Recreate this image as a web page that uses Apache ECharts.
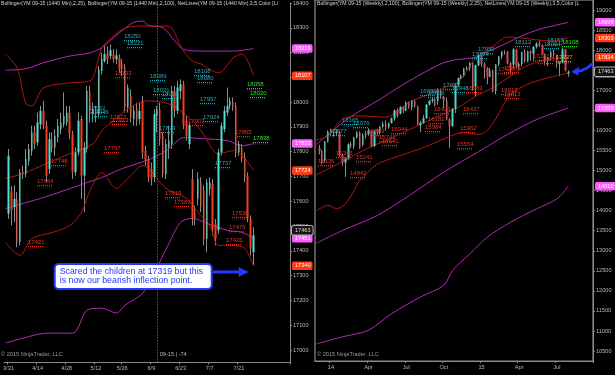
<!DOCTYPE html>
<html><head><meta charset="utf-8">
<script src="https://cdn.jsdelivr.net/npm/echarts@6.0.0/dist/echarts.min.js"></script>
<style>html,body{margin:0;padding:0;background:#000;}#c{width:615px;height:375px;}</style>
</head><body><div id="c"></div>
<script>
const FONT = '"Liberation Sans", Arial, sans-serif';

// ---------- LEFT PANEL (daily) ----------
const leftDates = ['3/31','4/1','4/2','4/3','4/6','4/7','4/8','4/9','4/10','4/13','4/14','4/15','4/16','4/17','4/20','4/21','4/22','4/23','4/24','4/27','4/28','4/29','4/30',
'5/1','5/4','5/5','5/6','5/7','5/8','5/11','5/12','5/13','5/14','5/15','5/18','5/19','5/20','5/21','5/22','5/26','5/27','5/28','5/29',
'6/1','6/2','6/3','6/4','6/5','6/8','6/9','6/10','6/11','6/12','6/15','6/16','6/17','6/18','6/19','6/22','6/23','6/24','6/25','6/26','6/29','6/30',
'7/1','7/2','7/3','7/6','7/7','7/8','7/9','7/10','7/13','7/14','7/15','7/16','7/17','7/20','7/21','7/22','7/23','7/24','7/27','7/28'];
const leftTickLabels = ['3/31','4/14','4/28','5/12','5/26','6/9','6/23','7/7','7/21'];
const leftYTicks = [17000,17100,17200,17300,17400,17500,17600,17700,17800,17900,18000,18100,18200,18300,18400];
// [open, close, low, high]
const leftOHLC = [
[17550,17784,17529,17811],[17640,17563,17503,17660],[17576,17610,17516,17664],[17610,17436,17415,17637],[17436,17717,17422,17730],
[17720,17709,17690,17744],[17710,17771,17697,17811],[17764,17811,17744,17831],[17804,17878,17784,17905],[17878,17831,17811,17905],
[17838,17918,17824,17958],[17911,17965,17891,17985],[17965,17905,17891,18005],[17905,17704,17677,17925],[17730,17851,17710,17878],
[17844,17813,17797,17878],[17817,17864,17784,17891],[17858,17905,17838,17932],[17891,17918,17871,17958],[17911,17945,17898,18039],
[17918,17958,17905,17985],[17956,17871,17851,17985],[17871,17717,17690,17885],[17717,17797,17704,17818],[17797,17925,17784,17958],
[17932,17704,17610,17945],[17704,17817,17556,17838],[17811,18045,17797,18065],[18045,17952,17918,18065],[17952,17972,17918,17998],
[17965,17952,17918,17985],[17952,18133,17938,18146],[18126,18173,18112,18200],[18166,18193,18159,18226],[18200,18173,18153,18226],
[18186,18210,18173,18233],[18193,18173,18159,18213],[18173,18189,18153,18213],[18179,18133,18119,18193],[18153,18133,18106,18173],
[18139,17978,17958,18153],[17978,18059,17958,18072],[18025,17938,17918,18052],[17932,17965,17905,17985],[17978,17925,17905,17998],
[17932,17965,17911,17998],[18005,17797,17771,18025],[17804,17764,17744,17824],[17771,17697,17677,17784],[17730,17690,17664,17757],
[17697,17952,17677,17972],[17945,17972,17878,17985],[17972,17851,17824,17998],[17864,17710,17697,17878],[17710,17831,17690,17851],
[17817,17844,17771,17905],[17831,18045,17811,18065],[18045,17965,17938,18065],[17965,18059,17952,18086],[18045,18072,18012,18092],
[18072,17905,17891,18086],[17925,17864,17844,17945],[17831,17905,17811,17918],[17690,17529,17503,17730],[17556,17529,17503,17583],
[17610,17690,17583,17717],[17677,17583,17556,17697],[17643,17449,17422,17664],[17449,17677,17395,17690],[17650,17677,17623,17697],
[17670,17489,17462,17690],[17509,17449,17422,17529],[17483,17797,17469,17811],[17797,17905,17784,17918],[17891,17965,17878,17985],
[17958,17985,17945,18059],[17985,18005,17972,18019],[18001,17978,17965,18019],[17985,17797,17777,17998],[17797,17831,17784,17844],
[17817,17771,17757,17831],[17777,17697,17677,17797],[17704,17529,17516,17717],[17529,17409,17382,17543],[17395,17463,17342,17496]];
// Bollinger bands: [barIndex, value]
const leftRedUpper = [[-1,18194],[3,18138],[6,17993],[8,17985],[12,18057],[21,18078],[28,18086],[32,18218],[36,18267],[40,18299],[46,18307],[53,18307],[56,18299],[59,18226],[63,18166],[66,18154],[72,18118],[77,18178],[80,18194],[82,18166],[84,18107]];
const leftRedMid = [[-1,17692],[5,17712],[13,17752],[21,17792],[29,17832],[32,17885],[36,17925],[40,17965],[47,18005],[55,17993],[62,17937],[66,17885],[72,17792],[77,17804],[81,17772],[84,17724]];
const leftRedLower = [[-1,17434],[4,17382],[8,17450],[15,17474],[21,17502],[25,17555],[28,17644],[32,17716],[37,17652],[41,17692],[46,17744],[54,17652],[61,17612],[65,17555],[69,17502],[72,17422],[77,17422],[81,17410],[84,17340]];
const leftPurpleUpper = [[-1,18129],[6,18135],[12,18159],[21,18186],[28,18199],[32,18220],[38,18280],[43,18322],[46,18327],[48,18310],[53,18300],[57,18247],[60,18213],[66,18206],[77,18206],[84,18216]];
const leftPurpleMid = [[-1,17571],[5,17591],[13,17619],[21,17651],[27,17676],[32,17696],[39,17732],[49,17772],[55,17812],[60,17857],[66,17853],[75,17845],[80,17824],[84,17833]];
const leftPurpleLower = [[-1,17028],[5,17048],[13,17068],[22,17068],[27,17161],[32,17169],[37,17149],[40,17181],[46,17229],[50,17310],[55,17430],[59,17515],[63,17531],[68,17511],[75,17483],[80,17475],[84,17451]];
// NetLines levels: [barIndex, price]
const leftCyanLevels = [[40,18250],[41,18221],[49,18089],[50,18031],[53,18018],[52,17879],[64,18108],[65,18080],[66,17997],[67,17924],[71,17737],[28,17962],[29,17946]];
const leftRedLevels = [[37,18103],[35,17922],[36,17913],[33,17797],[15,17748],[10,17664],[7,17421],[54,17619],[57,17583],[62,17907],[75,17426],[76,17479],[77,17536],[78,17865]];
const leftGreenLevels = [[82,18058],[83,18020],[84,17838]];
const rollDate = '6/11';
const rollText = '09-15 | -74';
const noteLines = ['Scared the children at 17319 but this', 'is now our bearish inflection point.'];
const notePrice = 17319;
const noteBar = 82;

// ---------- RIGHT PANEL (weekly) ----------
const rightDates = ['12/6/13','12/13/13','12/20/13','12/27/13','1/3/14','1/10/14','1/17/14','1/24/14','1/31/14','2/7/14','2/14/14','2/21/14','2/28/14',
'3/7/14','3/14/14','3/21/14','3/28/14','4/4/14','4/11/14','4/18/14','4/25/14','5/2/14','5/9/14','5/16/14','5/23/14','5/30/14','6/6/14','6/13/14','6/20/14','6/27/14',
'7/4/14','7/11/14','7/18/14','7/25/14','8/1/14','8/8/14','8/15/14','8/22/14','8/29/14','9/5/14','9/12/14','9/19/14','9/26/14','10/3/14','10/10/14','10/17/14','10/24/14','10/31/14',
'11/7/14','11/14/14','11/21/14','11/28/14','12/5/14','12/12/14','12/19/14','12/26/14','1/2/15','1/9/15','1/16/15','1/23/15','1/30/15','2/6/15','2/13/15','2/20/15','2/27/15',
'3/6/15','3/13/15','3/20/15','3/27/15','4/3/15','4/10/15','4/17/15','4/24/15','5/1/15','5/8/15','5/15/15','5/22/15','5/29/15','6/5/15','6/12/15','6/19/15','6/26/15',
'7/3/15','7/10/15','7/17/15','7/24/15','7/31/15'];
const rightTickLabels = {'1/3/14':'14','4/4/14':'Apr','7/4/14':'Jul','10/3/14':'Oct','1/2/15':'15','4/3/15':'Apr','7/3/15':'Jul'};
const rightYTicks = [10500,11000,11500,12000,12500,13000,13500,14000,14500,15000,15500,16000,16500,17000,17500,18000,18500,19000];
const rightOHLC = [
[15560,15480,15400,15640],[15480,15215,15160,15510],[15255,15721,15200,15740],[15721,15979,15700,16000],[15979,15969,15860,16040],
[15969,15937,15850,16010],[15937,15958,15880,16030],[15958,15379,15340,15990],[15379,15199,15120,15420],[15199,15294,14840,15320],
[15294,15654,15260,15680],[15654,15603,15560,15720],[15603,15821,15540,15840],[15821,15952,15800,15980],[15952,15565,15540,15980],
[15645,15882,15600,15930],[15882,15903,15800,15990],[15903,15992,15880,16050],[15992,15607,15580,16000],[15607,15989,15590,16000],
[15989,15941,15880,16040],[15941,16092,15900,16110],[16092,16163,16050,16220],[16163,16071,15990,16250],[16071,16186,16040,16200],
[16186,16297,16170,16320],[16297,16504,16240,16520],[16504,16356,16320,16550],[16416,16587,16400,16600],[16587,16491,16430,16590],
[16491,16708,16480,16720],[16708,16584,16540,16720],[16584,16740,16500,16760],[16740,16601,16560,16780],[16601,16133,16120,16620],
[16133,16193,15960,16240],[16193,16303,16160,16380],[16303,16641,16290,16660],[16641,16738,16620,16760],[16738,16778,16680,16820],
[16778,16628,16600,16800],[16718,17010,16640,17050],[17010,16843,16790,17040],[16843,16739,16560,16860],[16739,16274,16250,16820],
[16274,16110,15560,16300],[16110,16535,16090,16560],[16535,17121,16430,17130],[17121,17303,17100,17320],[17303,17364,17280,17400],
[17364,17540,17330,17560],[17540,17558,17500,17600],[17558,17688,17480,17700],[17688,17011,16990,17700],[17101,17625,16850,17640],
[17625,17873,17600,17890],[17873,17653,17590,17880],[17653,17557,17280,17700],[17557,17332,17150,17580],[17332,17493,17330,17560],
[17493,16985,16950,17520],[16985,17645,16900,17660],[17645,17839,17600,17860],[17839,17960,17780,17980],[17960,17953,17890,18000],
[17953,17677,17650,17980],[17677,17569,17450,17700],[17639,18018,17560,18060],[18018,17602,17560,18030],[17602,17653,17520,17700],
[17653,17948,17600,17960],[17948,17716,17690,18020],[17716,17970,17700,17990],[17970,17914,17740,18000],[17914,18081,17720,18100],
[18081,18162,18040,18200],[18162,18122,18080,18230],[18122,17901,17880,18140],[17901,17739,17630,17920],[17739,17789,17600,17830],
[17829,17945,17740,18000],[17945,17877,17830,18010],[17877,17660,17560,17890],[17660,17690,17350,17720],[17690,18017,17670,18060],
[18017,17499,17470,18030],[17420,17463,17340,17500]];
const rightRedUpper = [[-1,15760],[3,15865],[8,16280],[14,16360],[23,16330],[31,16700],[37,16880],[43,17065],[48,17200],[54,17800],[60,18100],[65,18330],[70,18300],[76,18250],[81,18230],[86,18303]];
const rightRedMid = [[-1,14900],[6,15150],[12,15380],[18,15600],[24,15782],[36,16186],[48,16576],[54,16850],[60,17068],[66,17350],[72,17621],[80,17780],[86,17824]];
const rightRedLower = [[-1,14000],[3,14130],[6,14050],[9,14170],[12,14500],[14,14750],[20,15160],[25,15300],[31,15450],[37,15600],[45,15850],[50,15950],[55,15900],[58,16000],[61,16300],[66,16900],[72,17150],[77,17274],[84,17398],[86,17420]];
const rightPurpleUpper = [[-1,15650],[10,16300],[20,16735],[31,17231],[42,17660],[47,17760],[53,17810],[58,17960],[64,18150],[70,18360],[76,18520],[81,18610],[86,18696]];
const rightPurpleMid = [[-1,13190],[8,13505],[20,13878],[31,14375],[43,14960],[55,15470],[65,15900],[75,16270],[86,16559]];
const rightPurpleLower = [[-1,10680],[8,10855],[17,11021],[25,11435],[35,11851],[43,12140],[46,12512],[52,12926],[58,13340],[66,13712],[75,14044],[82,14293],[86,14610]];
const rightCyanLevels = [[4,15877],[8,16165],[12,16076],[35,16885],[38,16836],[43,17033],[46,16948],[53,17794],[55,17930],[68,18112],[78,18064],[79,18153]];
const rightRedLevels = [[0,15136],[6,15345],[11,14842],[13,15241],[17,15893],[21,15741],[22,15641],[25,15944],[37,15984],[38,16181],[40,16423],[48,15554],[49,15962],[50,16437],[51,16963],[62,17420],[64,17463],[63,16913],[64,16813],[74,17761],[76,17675]];
const rightOrangeLevels = [[82,17727]];
const rightGreenLevels = [[84,18108]];

const headerLeft = 'Bollinger(YM 09-15 (1440 Min),2,25), Bollinger(YM 09-15 (1440 Min),2,100), NetLines(YM 09-15 (1440 Min),3,5,Color [Li';
const headerRight = 'Bollinger(YM 09-15 (Weekly),2,100), Bollinger(YM 09-15 (Weekly),2,25), NetLines(YM 09-15 (Weekly),3,5,Color [L';
const copyright = '\u00a9 2015 NinjaTrader, LLC';

// ---------- build ----------
const leftCats = ['_a'].concat(leftDates, Array.from({length:12}, (_, i) => '_l' + i));
const rightCats = ['_b'].concat(rightDates, Array.from({length:8}, (_, i) => '_r' + i));

const C = {
  cyanL:'#4fe3d3', redL:'#f53d1d', cyanR:'#4fd8c8', redR:'#e0425c', wick:'#8c8c8c',
  bandRed:'#b3160f', bandPurple:'#b42ab4', tagPink:'#ff5cff', tagRed:'#ff3a12',
  lvCyan:'#1fa9b0', lvRed:'#e63222', lvGreen:'#22e022', lvOrange:'#e8a030', axis:'#b8b8b8'
};
const HIDDEN_LINE = {color:'rgba(0,0,0,0)', width:1, type:'solid'};

function tagLabel(bg, fg, border, offset) {
  return {show:true, position:'end', distance:2, formatter:'{c}', backgroundColor:bg, color:fg, fontSize:5.6, fontFamily:FONT,
    padding:[1.5,2,1,3], borderRadius:1.5, borderColor: border || bg, borderWidth: border ? 1 : 0, offset: offset || [0,0], opacity:1};
}
function band(data, gi, color, tagBg) {
  const last = data[data.length - 1][1];
  return {type:'line', xAxisIndex:gi, yAxisIndex:gi, data:data.map(d => [d[0] + 1, d[1]]), smooth:0.3, symbol:'none',
    z:3, silent:true, lineStyle:{color:color, width:1},
    markLine:{silent:true, symbol:'none', lineStyle:HIDDEN_LINE, label:tagLabel(tagBg, '#ffffff'), data:[{yAxis:last}]}};
}
function candles(ohlc, gi, up, down, lastOffset) {
  const last = ohlc[ohlc.length - 1][1];
  return [
    {type:'candlestick', xAxisIndex:gi, yAxisIndex:gi, z:2, silent:true, barWidth:0.6,
      data:ohlc.map((d, i) => [i + 1, d[0], d[1], d[2], d[3]]), encode:{x:0, y:[1,2,3,4]},
      itemStyle:{color:C.wick, color0:C.wick, borderColor:C.wick, borderColor0:C.wick, borderWidth:1}},
    {type:'candlestick', xAxisIndex:gi, yAxisIndex:gi, z:4, silent:true, barWidth:2,
      data:ohlc.map((d, i) => [i + 1, d[0], d[1], Math.min(d[0], d[1]), Math.max(d[0], d[1])]), encode:{x:0, y:[1,2,3,4]},
      itemStyle:{color:up, color0:down, borderColor:up, borderColor0:down, borderWidth:0},
      markLine:{silent:true, symbol:'none', lineStyle:HIDDEN_LINE,
        label:tagLabel('#141414', '#d8d8d8', '#b0b0b0', lastOffset), data:[{yAxis:last}]}}
  ];
}
function levels(data, gi, color) {
  return {type:'custom', xAxisIndex:gi, yAxisIndex:gi, z:5, silent:true,
    data:data.map(d => [d[0] + 1, d[1]]), encode:{x:0, y:1},
    renderItem:function (params, api) {
      const p = api.coord([api.value(0), api.value(1)]);
      const x = Math.round(p[0]) - 1, y = Math.round(p[1]) + 0.5;
      return {type:'group', children:[
        {type:'text', style:{text:String(api.value(1)), x:x, y:y - 1, fill:color, font:'6px ' + FONT, align:'left', verticalAlign:'bottom'}},
        {type:'line', shape:{x1:x, y1:y, x2:x + 16, y2:y}, style:{stroke:color, lineWidth:1, lineDash:[1,1]}},
        {type:'line', shape:{x1:x, y1:y + 1.5, x2:x + 16, y2:y + 1.5}, style:{stroke:color, lineWidth:0.8, lineDash:[1,1], opacity:0.55}}
      ]};
    }};
}

const chart = echarts.init(document.getElementById('c'), null, {renderer:'canvas'});
const yLab = {fontSize:5.6, color:C.axis, fontFamily:FONT, margin:3};
const option = {
  backgroundColor:'#000',
  animation:false,
  textStyle:{fontFamily:FONT},
  title:[
    {text:headerLeft, left:1, top:1, padding:0, textStyle:{fontSize:5.2, color:'#d4d4d4', fontWeight:'normal', fontFamily:FONT}},
    {text:headerRight, left:317, top:1, padding:0, textStyle:{fontSize:5.2, color:'#d4d4d4', fontWeight:'normal', fontFamily:FONT}},
    {text:copyright, left:1, top:351, padding:0, textStyle:{fontSize:5.6, color:'#9a9a9a', fontWeight:'normal', fontFamily:FONT}},
    {text:copyright, left:317, top:351, padding:0, textStyle:{fontSize:5.6, color:'#9a9a9a', fontWeight:'normal', fontFamily:FONT}}
  ],
  grid:[
    {left:0, top:1.83, width:290, height:360.6, containLabel:false},
    {left:315, top:-1.3, width:278, height:362.4, containLabel:false, show:true, borderColor:'#a8a8a8', borderWidth:1, backgroundColor:'transparent'}
  ],
  xAxis:[
    {type:'category', gridIndex:0, data:leftCats, boundaryGap:true,
      axisLine:{show:true, lineStyle:{color:'#8a8a8a'}},
      axisTick:{show:true, length:2, lineStyle:{color:'#8a8a8a'}, interval:(i, v) => leftTickLabels.indexOf(v) >= 0},
      axisLabel:{fontSize:5.6, color:C.axis, fontFamily:FONT, margin:3, interval:(i, v) => leftTickLabels.indexOf(v) >= 0},
      splitLine:{show:false}},
    {type:'category', gridIndex:1, data:rightCats, boundaryGap:true,
      axisLine:{show:true, lineStyle:{color:'#8a8a8a'}},
      axisTick:{show:true, length:2, lineStyle:{color:'#8a8a8a'}, interval:(i, v) => v in rightTickLabels},
      axisLabel:{fontSize:5.6, color:C.axis, fontFamily:FONT, margin:3, interval:(i, v) => v in rightTickLabels, formatter:v => rightTickLabels[v] || ''},
      splitLine:{show:false}}
  ],
  yAxis:[
    {type:'value', gridIndex:0, position:'right', min:16950, max:18400, interval:50, scale:true,
      axisLine:{show:true, lineStyle:{color:'#8a8a8a'}},
      axisTick:{show:true, length:2, lineStyle:{color:'#8a8a8a'}, customValues:leftYTicks},
      axisLabel:Object.assign({customValues:leftYTicks, formatter:v => (v % 100 === 0 ? String(v) : '')}, yLab),
      splitLine:{show:false}},
    {type:'value', gridIndex:1, position:'right', min:10250, max:19250, interval:250, scale:true,
      axisLine:{show:true, lineStyle:{color:'#8a8a8a'}},
      axisTick:{show:true, length:2, lineStyle:{color:'#8a8a8a'}, customValues:rightYTicks},
      axisLabel:Object.assign({customValues:rightYTicks, formatter:v => (v % 500 === 0 && v <= 19000 ? String(v) : '')}, yLab),
      splitLine:{show:false}}
  ],
  series:[]
};

const leftCandles = candles(leftOHLC, 0, C.cyanL, C.redL, [0,-5]);
leftCandles[0].markLine = {silent:true, symbol:'none',
  lineStyle:{color:'#8a8a8a', type:[1,2], width:1},
  label:{position:'start', formatter:rollText, fontSize:5.6, color:C.axis, fontFamily:FONT, offset:[16,-16]},
  data:[{xAxis:rollDate}]};

option.series = [].concat(
  [band(leftPurpleUpper, 0, C.bandPurple, C.tagPink), band(leftPurpleMid, 0, C.bandPurple, C.tagPink), band(leftPurpleLower, 0, C.bandPurple, C.tagPink),
   band(leftRedUpper, 0, C.bandRed, C.tagRed), band(leftRedMid, 0, C.bandRed, C.tagRed), band(leftRedLower, 0, C.bandRed, C.tagRed)],
  leftCandles,
  [levels(leftCyanLevels, 0, C.lvCyan), levels(leftRedLevels, 0, C.lvRed), levels(leftGreenLevels, 0, C.lvGreen)],
  [band(rightPurpleUpper, 1, C.bandPurple, C.tagPink), band(rightPurpleMid, 1, C.bandPurple, C.tagPink), band(rightPurpleLower, 1, C.bandPurple, C.tagPink),
   band(rightRedUpper, 1, C.bandRed, C.tagRed), band(rightRedMid, 1, C.bandRed, C.tagRed), band(rightRedLower, 1, C.bandRed, C.tagRed)],
  candles(rightOHLC, 1, C.cyanR, C.redR),
  [levels(rightCyanLevels, 1, C.lvCyan), levels(rightRedLevels, 1, C.lvRed), levels(rightOrangeLevels, 1, C.lvOrange), levels(rightGreenLevels, 1, C.lvGreen)]
);
chart.setOption(option);

// annotations anchored through the axes
const blue = '#2338ff';
const tip = chart.convertToPixel({xAxisIndex:0, yAxisIndex:0}, [noteBar + 1, notePrice]);
const bx = tip[0] - 193, by = tip[1] - 7, bw = 157, bh = 25;
const lastW = rightOHLC[rightOHLC.length - 1][1];
const tip2 = chart.convertToPixel({xAxisIndex:1, yAxisIndex:1}, [rightOHLC.length + 1, lastW]);
chart.setOption({graphic:[
  {type:'rect', z:100, shape:{x:bx, y:by, width:bw, height:bh, r:4}, style:{fill:'#ffffff', stroke:blue, lineWidth:2}},
  {type:'text', z:101, style:{text:noteLines[0], x:bx + 5, y:tip[1] + 0.5, fill:blue, font:'8.8px ' + FONT, verticalAlign:'middle'}},
  {type:'text', z:101, style:{text:noteLines[1], x:bx + 5, y:tip[1] + 9.5, fill:blue, font:'8.8px ' + FONT, verticalAlign:'middle'}},
  {type:'line', z:100, shape:{x1:bx + bw + 1, y1:tip[1] + 1, x2:tip[0] - 8, y2:tip[1] + 1}, style:{stroke:blue, lineWidth:3}},
  {type:'polygon', z:100, shape:{points:[[tip[0] + 1, tip[1] + 1], [tip[0] - 9, tip[1] - 4], [tip[0] - 9, tip[1] + 6]]}, style:{fill:blue}},
  {type:'polygon', z:100, shape:{points:[[tip2[0], tip2[1]], [tip2[0] + 8, tip2[1] - 5], [tip2[0] + 7, tip2[1] + 4]]}, style:{fill:blue}},
  {type:'bezierCurve', z:100, shape:{x1:tip2[0] + 6, y1:tip2[1] - 0.5, cpx1:tip2[0] + 13, cpy1:tip2[1] - 1, cpx2:tip2[0] + 17, cpy2:tip2[1] - 4, x2:tip2[0] + 21, y2:tip2[1] - 8}, style:{stroke:blue, lineWidth:3, fill:null}}
]});
</script></body></html>
